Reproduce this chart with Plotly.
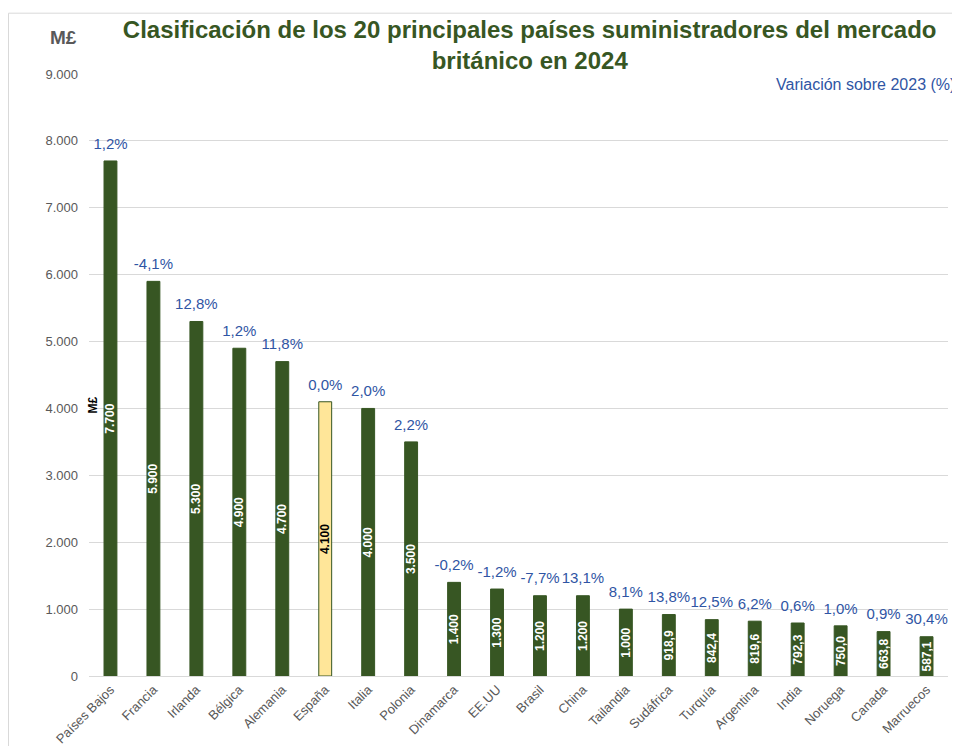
import plotly.graph_objects as go

countries = ["Países Bajos", "Francia", "Irlanda", "Bélgica", "Alemania", "España", "Italia",
             "Polonia", "Dinamarca", "EE.UU", "Brasil", "China", "Tailandia", "Sudáfrica",
             "Turquía", "Argentina", "India", "Noruega", "Canada", "Marruecos"]
values = [7700, 5900, 5300, 4900, 4700, 4100, 4000, 3500, 1400, 1300, 1200, 1200, 1000,
          918.9, 842.4, 819.6, 792.3, 750.0, 663.8, 587.1]
variation = [1.2, -4.1, 12.8, 1.2, 11.8, 0.0, 2.0, 2.2, -0.2, -1.2, -7.7, 13.1, 8.1,
             13.8, 12.5, 6.2, 0.6, 1.0, 0.9, 30.4]
highlight = "España"
y_ticks = [0, 1000, 2000, 3000, 4000, 5000, 6000, 7000, 8000, 9000]

GREEN = "#375623"
YELLOW = "#FFE699"
BLUE = "#2F55A4"
GRAY = "#595959"
FONT = "Liberation Sans, Arial, sans-serif"


def fmt_value(v):
    if v >= 1000:
        return f"{v:,.0f}".replace(",", ".")
    return f"{v:.1f}".replace(".", ",")


def fmt_pct(p):
    return f"{p:.1f}".replace(".", ",") + "%"


def fmt_tick(v):
    return f"{v:,.0f}".replace(",", ".")


bar_colors = [YELLOW if c == highlight else GREEN for c in countries]
text_colors = ["black" if c == highlight else "white" for c in countries]

fig = go.Figure()
fig.add_trace(go.Bar(
    x=countries, y=values,
    marker=dict(color=bar_colors, line=dict(color=GREEN, width=1)),
    text=[fmt_value(v) for v in values],
    textposition="inside", insidetextanchor="middle", textangle=-90,
    textfont=dict(family=FONT, size=12, color=text_colors, weight="bold"),
    hoverinfo="skip",
))
fig.add_trace(go.Scatter(
    x=countries, y=values, mode="markers+text",
    marker=dict(size=12, color="rgba(0,0,0,0)"),
    text=[fmt_pct(p) for p in variation],
    textposition="top center",
    textfont=dict(family=FONT, size=15, color=BLUE),
    cliponaxis=False, hoverinfo="skip",
))

fig.update_layout(
    width=952, height=738,
    margin=dict(l=81, r=12, t=66, b=70, autoexpand=False),
    paper_bgcolor="white", plot_bgcolor="white",
    showlegend=False, bargap=0.70,
    uniformtext=dict(minsize=12, mode="show"),
    title=dict(
        text="<b>Clasificación de los 20 principales países suministradores del mercado<br>británico en 2024</b>",
        x=0.548, xanchor="center", y=0.959, yanchor="middle",
        font=dict(family=FONT, size=24, color=GREEN),
    ),
    xaxis=dict(
        range=[-0.5, 19.5], automargin=False,
        tickangle=-45, tickfont=dict(family=FONT, size=13, color=GRAY),
        showgrid=False, showline=True, linecolor="#D9D9D9", linewidth=1,
        ticks="", fixedrange=True,
    ),
    yaxis=dict(
        range=[0, 9000], automargin=False, tickvals=y_ticks, ticktext=[fmt_tick(v) for v in y_ticks],
        tickfont=dict(family=FONT, size=13, color=GRAY),
        showgrid=True, gridcolor="#D9D9D9", gridwidth=1,
        zeroline=False, showline=False, ticks="", ticklabelstandoff=10,
    ),
    shapes=[dict(
        type="rect", xref="paper", yref="paper",
        x0=-0.0937, x1=1.2, y0=-0.2, y1=1.101,
        line=dict(color="#D9D9D9", width=1), fillcolor="rgba(0,0,0,0)", layer="below",
    )],
    annotations=[
        dict(text="<b>M£</b>", xref="paper", yref="paper", x=-0.012, y=1.06,
             xanchor="right", yanchor="middle", showarrow=False,
             font=dict(family=FONT, size=19, color=GRAY)),
        dict(text="<b>M£</b>", xref="paper", yref="paper", x=0.005, y=0.45,
             xanchor="center", yanchor="middle", showarrow=False, textangle=-90,
             font=dict(family=FONT, size=12, color="black")),
        dict(text="Variación sobre 2023 (%)", xref="paper", yref="paper", x=1.0105, y=0.983,
             xanchor="right", yanchor="middle", showarrow=False,
             font=dict(family=FONT, size=16, color=BLUE)),
    ],
)

fig.write_html("out.html")
